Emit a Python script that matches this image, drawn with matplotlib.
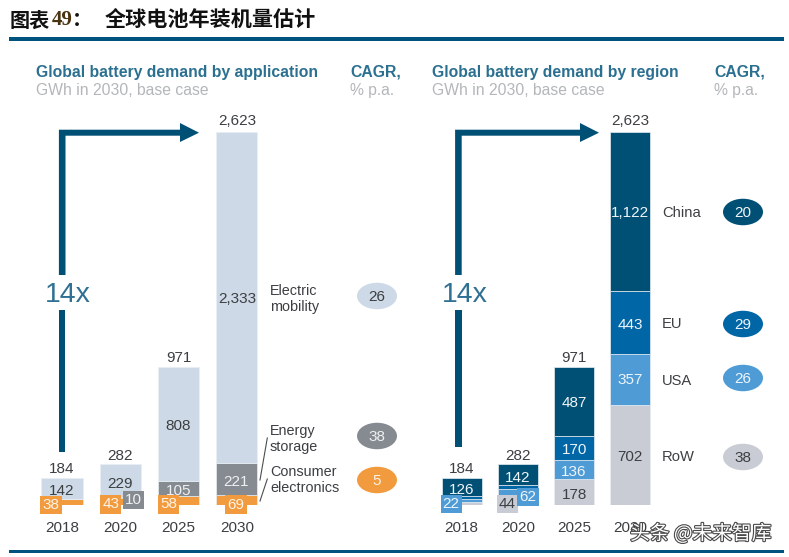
import matplotlib
matplotlib.use("Agg")
import matplotlib.pyplot as plt
import matplotlib.patheffects as pe
from matplotlib.patches import Ellipse, Polygon

W, H = 789, 557
FONT = "Liberation Sans"
CJK = "Noto Sans CJK SC"

years = ["2018", "2020", "2025", "2030"]
totals = [184, 282, 971, 2623]

consumer = [38, 43, 58, 69]
storage = [4, 10, 105, 221]
mobility = [142, 229, 808, 2333]

row = [16, 44, 178, 702]
usa = [22, 62, 136, 357]
eu = [20, 34, 170, 443]
china = [126, 142, 487, 1122]

C_LIGHT, C_GRAY, C_ORANGE = "#cdd9e6", "#858b90", "#f29a3e"
C_DARK, C_MID, C_SKY, C_ROW = "#005075", "#0066a6", "#4e9bd5", "#c9ccd4"
C_TEXT = "#3c3f42"
C_HEAD = "#2b7090"
C_SUB = "#b3b7ba"
C_RULE = "#00527f"
NUM = 11

fig = plt.figure(figsize=(W / 100, H / 100), dpi=100)
plt.rcParams["font.family"] = FONT

BASE, TOP = 504.5, 132.0


def panel(cx0, step):
    ax = fig.add_axes([(cx0 - step / 2) / W, 1 - BASE / H, 4 * step / W, (BASE - TOP) / H])
    ax.set_xlim(-0.5, 3.5)
    ax.set_ylim(0, 2623)
    for s in ax.spines.values():
        s.set_visible(False)
    ax.set_yticks([])
    ax.set_xticks(range(4), years, fontsize=NUM, color=C_TEXT, family=FONT)
    ax.tick_params(axis="x", length=0, pad=12)
    ax.patch.set_alpha(0)
    return ax


def stack(ax, series, colors, width):
    bottom = [0, 0, 0, 0]
    mids = []
    for vals, col in zip(series, colors):
        ax.bar(range(4), vals, width, bottom=bottom, color=col, edgecolor="#e9eef3", linewidth=0.5, zorder=2)
        mids.append([b + v / 2 for b, v in zip(bottom, vals)])
        bottom = [b + v for b, v in zip(bottom, vals)]
    return mids


def label(ax, i, y, val, color, dx=0, dy=0, box=None, z=5):
    kw = {}
    if box:
        kw["bbox"] = dict(boxstyle="square,pad=0.14", fc=box, ec="none")
        z = 4
    ax.annotate(f"{val:,}", (i, y), xytext=(dx, dy - 1), textcoords="offset pixels", ha="center",
                va="center", fontsize=NUM, color=color, zorder=z, annotation_clip=False, **kw)


def total_labels(ax, offs):
    for i, t in enumerate(totals):
        label(ax, i, t, t, C_TEXT, 0, offs[i])


# left panel
axl = panel(62.0, 58.3)
m = stack(axl, [consumer, storage, mobility], [C_ORANGE, C_GRAY, C_LIGHT], 0.704)
total_labels(axl, [10.5, 9.5, 9.5, 12])
for i, (dx, dy) in enumerate([(-11, -2), (-9.5, -2), (-10, -3), (-1, -4)]):
    label(axl, i, m[0][i], consumer[i], "#fdf3e6", dx, dy, box=C_ORANGE)
for i, (dx, dy, box) in {1: (13, -1, C_GRAY), 2: (0, -1, None), 3: (-1, -2, None)}.items():
    label(axl, i, m[1][i], storage[i], "#eef0f2", dx, dy, box=box)
for i, dy in enumerate([-1.5, -2, -1, 0]):
    label(axl, i, m[2][i], mobility[i], C_TEXT, 0, dy)

# right panel
axr = panel(461.7, 56.2)
m = stack(axr, [row, usa, eu, china], [C_ROW, C_SKY, C_MID, C_DARK], 0.712)
total_labels(axr, [10.5, 9.5, 9.5, 12])
label(axr, 1, m[0][1], row[1], C_TEXT, -10.5, -1.5, box=C_ROW)
label(axr, 2, m[0][2], row[2], C_TEXT, 0, -2)
label(axr, 3, m[0][3], row[3], C_TEXT, 0, -1)
label(axr, 0, m[1][0], usa[0], "#eef5fb", -10.5, -2, box=C_SKY)
label(axr, 1, m[1][1], usa[1], "#eef5fb", 10, -2, box=C_SKY)
label(axr, 2, m[1][2], usa[2], "#eef5fb", 0, -1.5)
label(axr, 3, m[1][3], usa[3], "#eef5fb", 0, 0)
for i in (2, 3):
    label(axr, i, m[2][i], eu[i], "#eef5fb", 0, -1)
for i, dy in enumerate([-1.5, -2, -1, 0]):
    label(axr, i, m[3][i], china[i], "#f0f5f8", 0, dy)

# page overlay in pixel coordinates
ov = fig.add_axes([0, 0, 1, 1], zorder=10)
ov.set_xlim(0, W)
ov.set_ylim(H, 0)
ov.axis("off")
ov.patch.set_alpha(0)

ov.fill_between([9, 784], 36.8, 40.6, color=C_RULE, lw=0)
ov.fill_between([9, 784], 550, 553, color=C_RULE, lw=0)

ov.text(10, 20, "图表", fontsize=14.5, fontweight="bold", family=CJK, color="#111111", va="center")
ov.text(52, 20, "49", fontsize=15, fontweight="bold", family="Liberation Serif", color="#4a3410", va="center")
ov.text(72, 20, "：", fontsize=14.5, fontweight="bold", family=CJK, color="#111111", va="center")
ov.text(105, 20, "全球电池年装机量估计", fontsize=15.2, fontweight="bold", family=CJK, color="#111111", va="center")

for x, txt in [(36, "Global battery demand by application"), (432, "Global battery demand by region")]:
    ov.text(x, 72, txt, fontsize=11.3, fontweight="bold", color=C_HEAD, va="center")
    ov.text(x, 90.5, "GWh in 2030, base case", fontsize=11.3, color=C_SUB, va="center")
for x in (350, 714):
    ov.text(x, 72, "CAGR,", fontsize=11.3, fontweight="bold", color=C_HEAD, va="center")
    ov.text(x, 90.5, "% p.a.", fontsize=11.3, color=C_SUB, va="center")


def arrow(xc, bottom, tip):
    hw, yc = 3.3, 132.7
    head = tip - 19
    ov.add_patch(Polygon([(xc - hw, 275), (xc - hw, yc - 3), (head, yc - 3), (head, 123), (tip, yc),
                          (head, 142), (head, yc + 3), (xc + hw, yc + 3), (xc + hw, 275)],
                         closed=True, fc=C_DARK, ec="none"))
    ov.fill_between([xc - hw, xc + hw], 310, bottom, color=C_DARK, lw=0)
    ov.text(xc - 17, 295, "14x", fontsize=20.5, color="#2f7093", va="center", ha="left")


arrow(62.2, 451.5, 199)
arrow(458.4, 447, 599)

for x, y, txt in [(270, 299, "Electric\nmobility"), (270, 439, "Energy\nstorage"),
                  (270, 480, "Consumer\nelectronics")]:
    ov.text(x, y, txt, fontsize=10.4, color=C_TEXT, va="center", linespacing=1.2)
for y, txt in [(213, "China"), (324, "EU"), (381, "USA"), (457, "RoW")]:
    ov.text(662, y, txt, fontsize=10.6, color=C_TEXT, va="center")

ov.plot([267.3, 260], [438, 480], color="#4a4d50", lw=0.8)
ov.plot([267.3, 260], [479, 501], color="#4a4d50", lw=0.8)

for x, y, txt, col, tc in [(377, 296, "26", C_LIGHT, C_TEXT), (377, 436, "38", C_GRAY, "#eef0f2"),
                           (377, 480, "5", C_ORANGE, "#fdf3e6"), (743, 212, "20", C_DARK, "#f0f5f8"),
                           (743, 324, "29", C_MID, "#eef5fb"), (743, 378, "26", C_SKY, "#eef5fb"),
                           (743, 457, "38", C_ROW, C_TEXT)]:
    ov.add_patch(Ellipse((x, y), 40, 26.5, fc=col, ec="none"))
    ov.text(x, y + 1, txt, fontsize=NUM, color=tc, ha="center", va="center")

ov.text(630, 534, "头条 @未来智库", fontsize=14.2, family=[CJK, "DejaVu Sans"], color="white", va="center",
        path_effects=[pe.withStroke(linewidth=1.6, foreground="#4a4a4a")])

fig.savefig("out.png", dpi=100)
